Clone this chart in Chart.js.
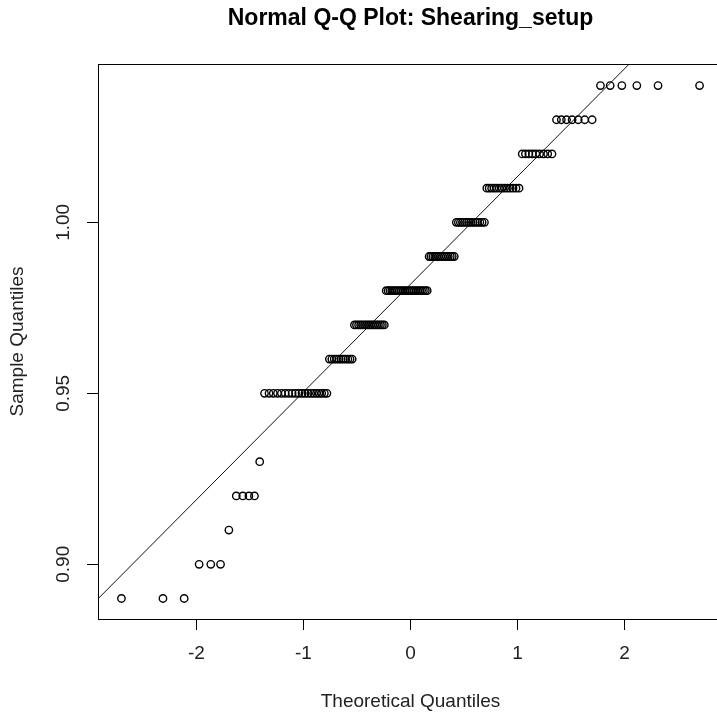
<!DOCTYPE html>
<html>
<head>
<meta charset="utf-8">
<title>Normal Q-Q Plot</title>
<script src="https://cdn.jsdelivr.net/npm/chart.js@4"></script>
<style>
    html, body { margin: 0; padding: 0; overflow: hidden; background: #fff; }
    canvas { display: block; }
</style>
</head>
<body>
<canvas id="chartQQ" width="730" height="715"></canvas>
<script>
// theoretical quantiles (x), sorted
const theoreticalQuantiles = [
    -2.701, -2.313, -2.115, -1.975, -1.866, -1.775, -1.697, -1.628, -1.567, -1.510,
    -1.458, -1.409, -1.364, -1.322, -1.282, -1.243, -1.206, -1.171, -1.138, -1.106,
    -1.074, -1.044, -1.014, -0.986, -0.958, -0.931, -0.905, -0.879, -0.854, -0.830,
    -0.805, -0.781, -0.758, -0.735, -0.713, -0.691, -0.669, -0.648, -0.627, -0.606,
    -0.585, -0.565, -0.545, -0.524, -0.505, -0.485, -0.466, -0.447, -0.428, -0.409,
    -0.390, -0.372, -0.353, -0.335, -0.317, -0.299, -0.281, -0.263, -0.245, -0.227,
    -0.209, -0.191, -0.174, -0.156, -0.139, -0.121, -0.104, -0.087, -0.069, -0.052,
    -0.035, -0.017, 0,
    0.017, 0.035, 0.052, 0.069, 0.087, 0.104, 0.121, 0.139, 0.156, 0.174,
    0.191, 0.209, 0.227, 0.245, 0.263, 0.281, 0.299, 0.317, 0.335, 0.353,
    0.372, 0.390, 0.409, 0.428, 0.447, 0.466, 0.485, 0.505, 0.524, 0.545,
    0.565, 0.585, 0.606, 0.627, 0.648, 0.669, 0.691, 0.713, 0.735, 0.758,
    0.781, 0.805, 0.830, 0.854, 0.879, 0.905, 0.931, 0.958, 0.986, 1.014,
    1.044, 1.074, 1.106, 1.138, 1.171, 1.206, 1.243, 1.282, 1.322, 1.364,
    1.409, 1.458, 1.510, 1.567, 1.628, 1.697, 1.775, 1.866, 1.975, 2.115,
    2.313, 2.701
];

// Shearing_setup sample values, sorted
const sampleQuantiles = [
    0.89, 0.89, 0.89,
    0.90, 0.90, 0.90,
    0.91,
    0.92, 0.92, 0.92, 0.92,
    0.93,
    0.95, 0.95, 0.95, 0.95, 0.95, 0.95, 0.95, 0.95, 0.95, 0.95,
    0.95, 0.95, 0.95, 0.95, 0.95, 0.95, 0.95, 0.95, 0.95, 0.95,
    0.96, 0.96, 0.96, 0.96, 0.96, 0.96, 0.96, 0.96, 0.96, 0.96, 0.96,
    0.97, 0.97, 0.97, 0.97, 0.97, 0.97, 0.97, 0.97,
    0.97, 0.97, 0.97, 0.97, 0.97, 0.97, 0.97, 0.97,
    0.98, 0.98, 0.98, 0.98, 0.98, 0.98, 0.98, 0.98, 0.98, 0.98, 0.98, 0.98,
    0.98, 0.98, 0.98, 0.98, 0.98, 0.98, 0.98, 0.98, 0.98, 0.98, 0.98,
    0.99, 0.99, 0.99, 0.99, 0.99, 0.99, 0.99, 0.99, 0.99, 0.99, 0.99, 0.99, 0.99, 0.99,
    1.00, 1.00, 1.00, 1.00, 1.00, 1.00, 1.00, 1.00, 1.00, 1.00, 1.00, 1.00, 1.00, 1.00,
    1.01, 1.01, 1.01, 1.01, 1.01, 1.01, 1.01, 1.01, 1.01, 1.01, 1.01, 1.01, 1.01,
    1.02, 1.02, 1.02, 1.02, 1.02, 1.02, 1.02, 1.02, 1.02,
    1.03, 1.03, 1.03, 1.03, 1.03, 1.03, 1.03,
    1.04, 1.04, 1.04, 1.04, 1.04, 1.04
];

// qqline end points (clipped to plot area)
const qqLineX = [-2.92, 2.92];
const qqLineY = [0.8899, 1.0739];

const X_TICKS = [-2, -1, 0, 1, 2];
const Y_TICKS = [0.90, 0.95, 1.00];
const Y_TICK_LABELS = ["0.90", "0.95", "1.00"];

const TITLE = "Normal Q-Q Plot: Shearing_setup";
const X_TITLE = "Theoretical Quantiles";
const Y_TITLE = "Sample Quantiles";

const FONT = '"Liberation Sans", Arial, sans-serif';

const chartQQ = createQQChart();

function createQQChart() {

    const points = theoreticalQuantiles.map((x, i) => ({ x: x, y: sampleQuantiles[i] }));
    const line = qqLineX.map((x, i) => ({ x: x, y: qqLineY[i] }));

    // title, rotated y tick labels, axis titles and the box like R draws them
    const rDecorations = {
        id: 'rDecorations',
        afterDraw(chart) {
            const ctx = chart.ctx;
            const area = chart.chartArea;
            const yScale = chart.scales.y;
            const cx = (area.left + area.right) / 2;
            const cy = (area.top + area.bottom) / 2;

            ctx.save();
            ctx.strokeStyle = '#000';
            ctx.lineWidth = 1;
            ctx.strokeRect(Math.round(area.left) + 0.5, Math.round(area.top) + 0.5,
                Math.round(area.right - area.left), Math.round(area.bottom - area.top));

            ctx.fillStyle = '#000';
            ctx.textAlign = 'center';
            ctx.textBaseline = 'middle';

            ctx.font = 'bold 23px ' + FONT;
            ctx.fillText(TITLE, cx, 19);

            ctx.font = '19px ' + FONT;
            ctx.fillStyle = '#222';
            ctx.fillText(X_TITLE, cx, 702);

            Y_TICKS.forEach((v, i) => {
                ctx.save();
                ctx.translate(64, yScale.getPixelForValue(v));
                ctx.rotate(-Math.PI / 2);
                ctx.fillText(Y_TICK_LABELS[i], 0, 0);
                ctx.restore();
            });

            ctx.save();
            ctx.translate(18, cy);
            ctx.rotate(-Math.PI / 2);
            ctx.fillText(Y_TITLE, 0, 0);
            ctx.restore();

            ctx.restore();
        }
    };

    const data = {
        datasets: [{
            label: 'Sample',
            data: points,
            showLine: false,
            pointStyle: 'circle',
            pointRadius: 3.7,
            pointBorderWidth: 1.4,
            pointBorderColor: '#000',
            pointBackgroundColor: 'rgba(0,0,0,0)',
        },
        {
            label: 'qqline',
            data: line,
            showLine: true,
            pointRadius: 0,
            borderWidth: 1,
            borderColor: '#111',
            fill: false,
        }
        ]
    };

    const config = {
        type: 'scatter',
        data: data,
        options: {
            responsive: false,
            animation: false,
            devicePixelRatio: 1,
            layout: {
                padding: { top: 64, right: 7, left: 0, bottom: 0 }
            },
            plugins: {
                legend: { display: false },
                title: { display: false },
                tooltip: { enabled: false },
            },
            scales: {
                x: {
                    type: 'linear',
                    min: -2.92,
                    max: 2.92,
                    afterBuildTicks: (scale) => {
                        scale.ticks = X_TICKS.map(v => ({ value: v }));
                    },
                    afterFit: (scale) => { scale.height = 96; },
                    border: { display: true, color: '#000', width: 1 },
                    grid: {
                        display: true,
                        drawOnChartArea: false,
                        drawTicks: true,
                        tickLength: 11,
                        tickColor: '#000',
                        tickWidth: 1,
                    },
                    ticks: {
                        color: '#222',
                        padding: 12,
                        maxRotation: 0,
                        font: { family: FONT, size: 19 },
                    }
                },
                y: {
                    type: 'linear',
                    min: 0.884,
                    max: 1.0463,
                    afterBuildTicks: (scale) => {
                        scale.ticks = Y_TICKS.map(v => ({ value: v }));
                    },
                    afterFit: (scale) => { scale.width = 98; },
                    border: { display: true, color: '#000', width: 1 },
                    grid: {
                        display: true,
                        drawOnChartArea: false,
                        drawTicks: true,
                        tickLength: 11,
                        tickColor: '#000',
                        tickWidth: 1,
                    },
                    ticks: { display: false }
                }
            }
        },
        plugins: [rDecorations]
    };

    return new Chart(
        document.getElementById('chartQQ'),
        config
    );
}
</script>
</body>
</html>
